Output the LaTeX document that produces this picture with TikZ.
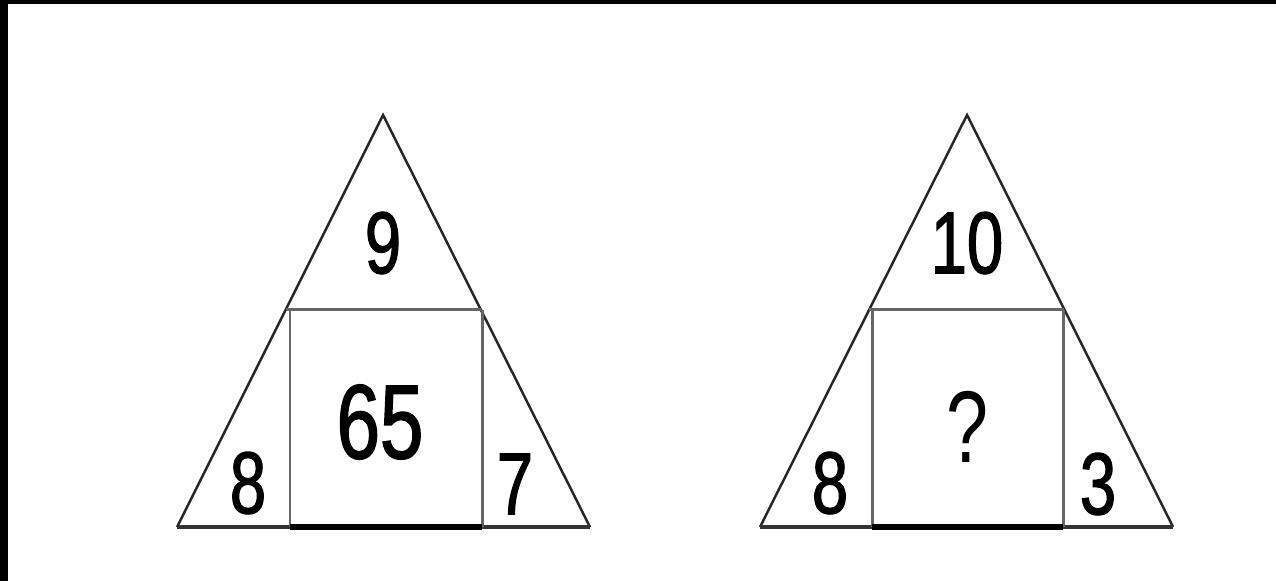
\documentclass[tikz,border=0pt]{standalone}
\usepackage{fontspec}
\newfontfamily\digitfont[FakeStretch=0.74,FakeBold=1.4]{Liberation Sans}
\newfontfamily\markfont[FakeStretch=0.74]{Liberation Sans}
\usetikzlibrary{positioning,calc}

\begin{document}
\begin{tikzpicture}[
  x=0.01cm, y=-0.01cm,
  tri/.style={draw=black!85, line width=0.7pt, line join=miter},
  inbox/.style={draw=black!60, line width=0.85pt},
  groundline/.style={draw=black!80, line width=1.1pt},
  boxfloor/.style={draw=black, line width=1.5pt},
  num/.style={font=\digitfont\fontsize{25}{25}\selectfont, inner sep=0pt},
  bignum/.style={font=\digitfont\fontsize{30}{30}\selectfont, inner sep=0pt},
  qmark/.style={font=\markfont\fontsize{29}{29}\selectfont, inner sep=0pt}
]
  % frame of the scan
  \fill[black] (0,0) rectangle (1276,581);
  \fill[white] (8,4) rectangle (1276,581);
  % first puzzle
  \coordinate (a1) at (383,115);
  \coordinate (l1) at (177,527);
  \coordinate (r1) at (590,527);
  \coordinate (sl1) at (290,527);
  \coordinate (sr1) at (482,527);
  \coordinate (tl1) at ($(a1)!0.473!(l1)$);
  \coordinate (tr1) at ($(a1)!0.473!(r1)$);
  \draw[tri] (l1) -- (a1) -- (r1);
  \draw[groundline] (l1) -- (r1);
  \draw[inbox] (tl1) -- (tr1);
  \draw[inbox] (sl1) -- (sl1 |- tl1);
  \draw[inbox] (sr1) -- (sr1 |- tr1);
  \draw[boxfloor] (sl1) -- (sr1);
  \node[num] (top1) at (383,243) {9};
  \node[bignum] (mid1) at (380,422) {65};
  \node[num] (left1) at (248,483) {8};
  \node[num] (right1) at (515,484) {7};
  % second puzzle
  \coordinate (a2) at (967,115);
  \coordinate (l2) at (760,527);
  \coordinate (r2) at (1173,527);
  \coordinate (sl2) at (872,527);
  \coordinate (sr2) at (1063,527);
  \coordinate (tl2) at ($(a2)!0.473!(l2)$);
  \coordinate (tr2) at ($(a2)!0.473!(r2)$);
  \draw[tri] (l2) -- (a2) -- (r2);
  \draw[groundline] (l2) -- (r2);
  \draw[inbox] (tl2) -- (tr2);
  \draw[inbox] (sl2) -- (sl2 |- tl2);
  \draw[inbox] (sr2) -- (sr2 |- tr2);
  \draw[boxfloor] (sl2) -- (sr2);
  \node[num] (top2) at (967,243) {10};
  \node[qmark] (mid2) at (967,427) {?};
  \node[num] (left2) at (830,483) {8};
  \node[num] (right2) at (1098,484) {3};
\end{tikzpicture}
\end{document}
